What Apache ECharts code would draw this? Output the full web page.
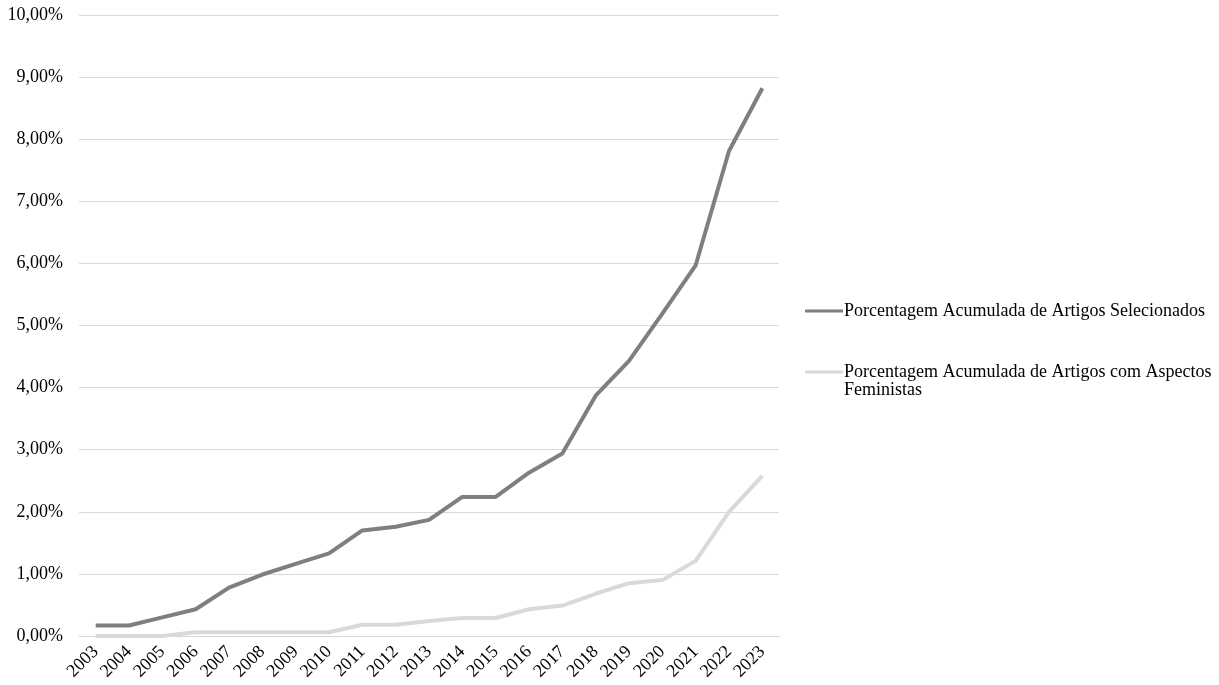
<!DOCTYPE html>
<html>
<head>
<meta charset="utf-8">
<script src="https://cdn.jsdelivr.net/npm/echarts@6/dist/echarts.min.js"></script>
<style>
html,body{margin:0;padding:0;background:#fff;}
#c{width:1219px;height:685px;}
</style>
</head>
<body>
<div id="c"></div>
<script>
const years = ['2003','2004','2005','2006','2007','2008','2009','2010','2011','2012','2013','2014','2015','2016','2017','2018','2019','2020','2021','2022','2023'];
const selecionados = [0.17,0.17,0.30,0.43,0.78,0.99,1.16,1.33,1.70,1.76,1.87,2.24,2.24,2.63,2.94,3.87,4.43,5.19,5.97,7.81,8.82];
const feministas = [0.00,0.00,0.00,0.06,0.06,0.06,0.06,0.06,0.18,0.18,0.24,0.29,0.29,0.43,0.49,0.68,0.85,0.90,1.21,2.00,2.58];
const nameSel = 'Porcentagem Acumulada de Artigos Selecionados';
const nameFem = 'Porcentagem Acumulada de Artigos com Aspectos Feministas';

const font = 'Liberation Serif, Times New Roman, serif';
const iconPath = 'path://M0,7.5 L38,7.5 L38,10.5 L0,10.5 Z';
const chart = echarts.init(document.getElementById('c'));
chart.setOption({
  backgroundColor: '#fff',
  animation: false,
  grid: {left: 79, right: 440, top: 15, bottom: 49, containLabel: false},
  xAxis: {
    type: 'category',
    data: years,
    boundaryGap: true,
    axisLine: {show: true, lineStyle: {color: '#d9d9d9', width: 1}},
    axisTick: {show: false},
    axisLabel: {rotate: 45, color: '#000', fontFamily: font, fontSize: 18, margin: 13, interval: 0}
  },
  yAxis: {
    type: 'value',
    min: 0, max: 10, interval: 1,
    axisLine: {show: false},
    axisTick: {show: false},
    splitLine: {lineStyle: {color: '#d9d9d9', width: 1}},
    axisLabel: {color: '#000', fontFamily: font, fontSize: 18, margin: 16,
      formatter: v => v.toFixed(2).replace('.', ',') + '%'}
  },
  legend: [
    {
      left: 805, top: 302, padding: 0,
      itemWidth: 38, itemHeight: 18, itemGap: 0,
      icon: iconPath,
      textStyle: {color: '#000', fontFamily: font, fontSize: 18, lineHeight: 18, padding: [0, 0, 0, -4]},
      data: [nameSel]
    },
    {
      left: 805, top: 345, padding: 0,
      itemWidth: 38, itemHeight: 18, itemGap: 0,
      icon: iconPath,
      textStyle: {color: '#000', fontFamily: font, fontSize: 18, lineHeight: 18, padding: [0, 0, 0, -4]},
      formatter: () => ' \nPorcentagem Acumulada de Artigos com Aspectos\nFeministas',
      data: [nameFem]
    }
  ],
  series: [
    {name: nameSel, type: 'line', data: selecionados, symbol: 'none', color: '#7f7f7f',
     lineStyle: {color: '#7f7f7f', width: 4}},
    {name: nameFem, type: 'line', data: feministas, symbol: 'none', color: '#d9d9d9',
     lineStyle: {color: '#d9d9d9', width: 4}}
  ]
});
</script>
</body>
</html>
